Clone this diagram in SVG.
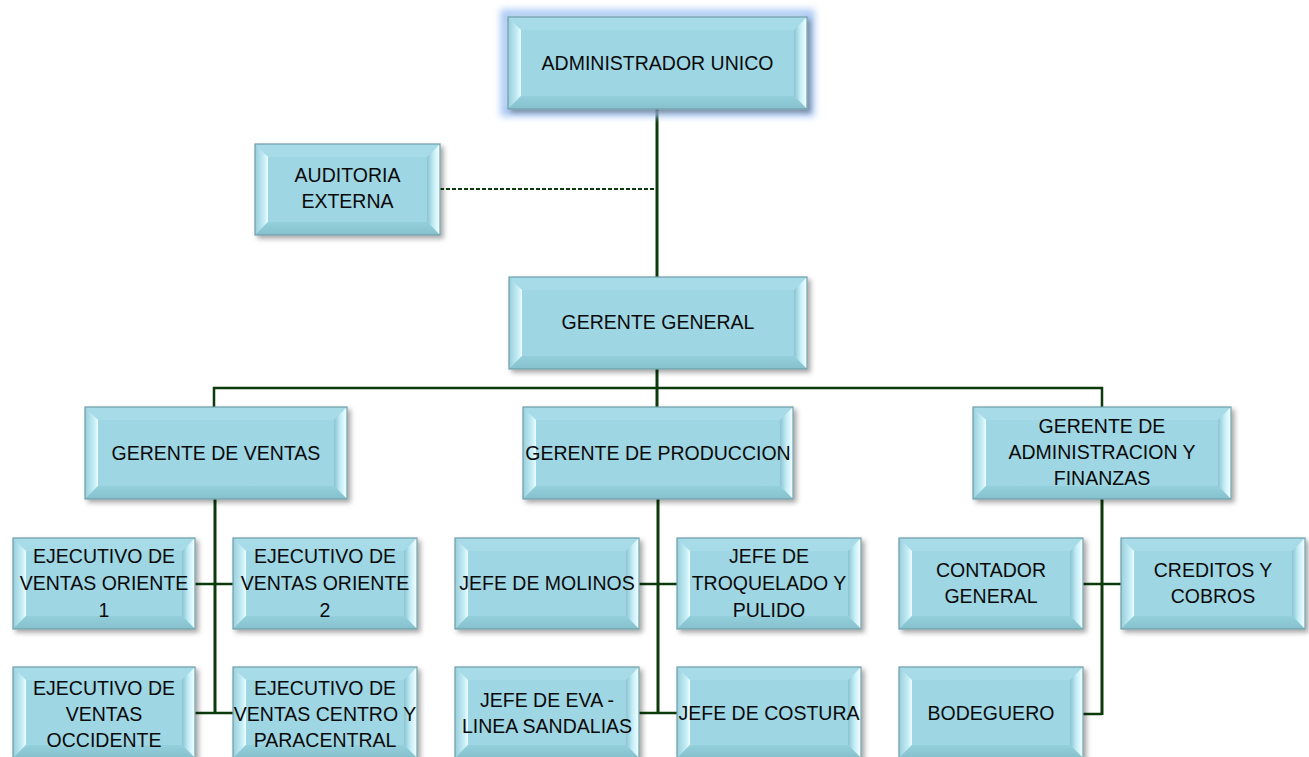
<svg xmlns="http://www.w3.org/2000/svg" width="1309" height="757" viewBox="0 0 1309 757">
<defs>
<linearGradient id="gl" x1="0" y1="0" x2="1" y2="0"><stop offset="0" stop-color="#98cedb"/><stop offset="0.75" stop-color="#c9f0f8"/><stop offset="1" stop-color="#f2feff"/></linearGradient>
<linearGradient id="gr" x1="0" y1="0" x2="1" y2="0"><stop offset="0" stop-color="#8ac3d1"/><stop offset="0.5" stop-color="#c4eef7"/><stop offset="1" stop-color="#f7ffff"/></linearGradient>
<linearGradient id="gb" x1="0" y1="0" x2="0" y2="1"><stop offset="0" stop-color="#94cfdc"/><stop offset="1" stop-color="#86c0cd"/></linearGradient>
<filter id="sh" x="-10%" y="-10%" width="125%" height="130%"><feDropShadow dx="3" dy="3" stdDeviation="2.5" flood-color="#000" flood-opacity="0.35"/></filter>
<filter id="glow" x="-20%" y="-30%" width="140%" height="160%"><feGaussianBlur stdDeviation="3.5"/></filter>
</defs>
<style>
.face{fill:#9ed6e4}
.bt{fill:#a6dbe7}
.bl{fill:url(#gl)}
.br{fill:url(#gr)}
.bb{fill:url(#gb)}
.edge{fill:none;stroke:#6f9ea9;stroke-width:1.2}
.node{filter:url(#sh)}
.t{font-family:"Liberation Sans",Arial,sans-serif;font-size:19.5px;fill:#0a0a0a;text-anchor:middle}
.ln{stroke:#0b3a0b;fill:none}
.v{stroke-width:3}
.h{stroke-width:2.5}
.d{stroke-width:2;stroke-dasharray:4 2}
</style>

<g id="connectors">
<line class="ln v" x1="657" y1="109" x2="657" y2="277"/>
<line class="ln d" x1="440" y1="189" x2="656" y2="189"/>
<line class="ln v" x1="657" y1="369" x2="657" y2="407"/>
<polyline class="ln h" points="214,407 214,388 1102,388 1102,407"/>
<line class="ln v" x1="215" y1="499" x2="215" y2="714"/>
<line class="ln h" x1="195" y1="584" x2="233" y2="584"/>
<line class="ln h" x1="195" y1="713" x2="233" y2="713"/>
<line class="ln v" x1="658" y1="499" x2="658" y2="714"/>
<line class="ln h" x1="639" y1="584" x2="677" y2="584"/>
<line class="ln h" x1="639" y1="713" x2="677" y2="713"/>
<line class="ln v" x1="1102" y1="499" x2="1102" y2="715"/>
<line class="ln h" x1="1083" y1="584" x2="1121" y2="584"/>
<polyline class="ln h" points="1083,714 1102,714"/>
</g>

<g id="admin-unico">
<rect x="505" y="14" width="305" height="98" fill="none" stroke="#a9c9f4" stroke-width="9" filter="url(#glow)"/>
<g class="node">
<rect class="face" x="508" y="17" width="299" height="92"/>
<polygon class="bt" points="508,17 807,17 794,30 521,30"/>
<polygon class="bl" points="508,17 521,30 521,96 508,109"/>
<polygon class="br" points="794,30 807,17 807,109 794,96"/>
<polygon class="bb" points="508,109 807,109 794,96 521,96"/>
<rect class="edge" x="508" y="17" width="299" height="92"/>
</g>
<text class="t" x="657.5" y="70">ADMINISTRADOR UNICO</text>
</g>

<g id="auditoria">
<g class="node">
<rect class="face" x="255" y="144" width="185" height="91"/>
<polygon class="bt" points="255,144 440,144 427,157 268,157"/>
<polygon class="bl" points="255,144 268,157 268,222 255,235"/>
<polygon class="br" points="427,157 440,144 440,235 427,222"/>
<polygon class="bb" points="255,235 440,235 427,222 268,222"/>
<rect class="edge" x="255" y="144" width="185" height="91"/>
</g>
<text class="t" x="347.5" y="182">AUDITORIA</text>
<text class="t" x="347.5" y="208">EXTERNA</text>
</g>

<g id="gerente-general">
<g class="node">
<rect class="face" x="509" y="277" width="298" height="92"/>
<polygon class="bt" points="509,277 807,277 794,290 522,290"/>
<polygon class="bl" points="509,277 522,290 522,356 509,369"/>
<polygon class="br" points="794,290 807,277 807,369 794,356"/>
<polygon class="bb" points="509,369 807,369 794,356 522,356"/>
<rect class="edge" x="509" y="277" width="298" height="92"/>
</g>
<text class="t" x="658" y="329">GERENTE GENERAL</text>
</g>

<g id="gerente-ventas">
<g class="node">
<rect class="face" x="85" y="407" width="262" height="92"/>
<polygon class="bt" points="85,407 347,407 334,420 98,420"/>
<polygon class="bl" points="85,407 98,420 98,486 85,499"/>
<polygon class="br" points="334,420 347,407 347,499 334,486"/>
<polygon class="bb" points="85,499 347,499 334,486 98,486"/>
<rect class="edge" x="85" y="407" width="262" height="92"/>
</g>
<text class="t" x="216" y="460">GERENTE DE VENTAS</text>
</g>

<g id="gerente-produccion">
<g class="node">
<rect class="face" x="523" y="407" width="270" height="92"/>
<polygon class="bt" points="523,407 793,407 780,420 536,420"/>
<polygon class="bl" points="523,407 536,420 536,486 523,499"/>
<polygon class="br" points="780,420 793,407 793,499 780,486"/>
<polygon class="bb" points="523,499 793,499 780,486 536,486"/>
<rect class="edge" x="523" y="407" width="270" height="92"/>
</g>
<text class="t" x="658" y="460">GERENTE DE PRODUCCION</text>
</g>

<g id="gerente-admin">
<g class="node">
<rect class="face" x="973" y="407" width="258" height="92"/>
<polygon class="bt" points="973,407 1231,407 1218,420 986,420"/>
<polygon class="bl" points="973,407 986,420 986,486 973,499"/>
<polygon class="br" points="1218,420 1231,407 1231,499 1218,486"/>
<polygon class="bb" points="973,499 1231,499 1218,486 986,486"/>
<rect class="edge" x="973" y="407" width="258" height="92"/>
</g>
<text class="t" x="1102" y="433">GERENTE DE</text>
<text class="t" x="1102" y="459">ADMINISTRACION Y</text>
<text class="t" x="1102" y="485">FINANZAS</text>
</g>

<g id="ejecutivo-oriente-1">
<g class="node">
<rect class="face" x="13" y="538" width="182" height="91"/>
<polygon class="bt" points="13,538 195,538 182,551 26,551"/>
<polygon class="bl" points="13,538 26,551 26,616 13,629"/>
<polygon class="br" points="182,551 195,538 195,629 182,616"/>
<polygon class="bb" points="13,629 195,629 182,616 26,616"/>
<rect class="edge" x="13" y="538" width="182" height="91"/>
</g>
<text class="t" x="104" y="563">EJECUTIVO DE</text>
<text class="t" x="104" y="590">VENTAS ORIENTE</text>
<text class="t" x="104" y="617">1</text>
</g>

<g id="ejecutivo-oriente-2">
<g class="node">
<rect class="face" x="233" y="538" width="184" height="91"/>
<polygon class="bt" points="233,538 417,538 404,551 246,551"/>
<polygon class="bl" points="233,538 246,551 246,616 233,629"/>
<polygon class="br" points="404,551 417,538 417,629 404,616"/>
<polygon class="bb" points="233,629 417,629 404,616 246,616"/>
<rect class="edge" x="233" y="538" width="184" height="91"/>
</g>
<text class="t" x="325" y="563">EJECUTIVO DE</text>
<text class="t" x="325" y="590">VENTAS ORIENTE</text>
<text class="t" x="325" y="617">2</text>
</g>

<g id="ejecutivo-occidente">
<g class="node">
<rect class="face" x="13" y="667" width="182" height="91"/>
<polygon class="bt" points="13,667 195,667 182,680 26,680"/>
<polygon class="bl" points="13,667 26,680 26,745 13,758"/>
<polygon class="br" points="182,680 195,667 195,758 182,745"/>
<polygon class="bb" points="13,758 195,758 182,745 26,745"/>
<rect class="edge" x="13" y="667" width="182" height="91"/>
</g>
<text class="t" x="104" y="695">EJECUTIVO DE</text>
<text class="t" x="104" y="721">VENTAS</text>
<text class="t" x="104" y="747">OCCIDENTE</text>
</g>

<g id="ejecutivo-centro">
<g class="node">
<rect class="face" x="233" y="667" width="184" height="91"/>
<polygon class="bt" points="233,667 417,667 404,680 246,680"/>
<polygon class="bl" points="233,667 246,680 246,745 233,758"/>
<polygon class="br" points="404,680 417,667 417,758 404,745"/>
<polygon class="bb" points="233,758 417,758 404,745 246,745"/>
<rect class="edge" x="233" y="667" width="184" height="91"/>
</g>
<text class="t" x="325" y="695">EJECUTIVO DE</text>
<text class="t" x="325" y="721">VENTAS CENTRO Y</text>
<text class="t" x="325" y="747">PARACENTRAL</text>
</g>

<g id="jefe-molinos">
<g class="node">
<rect class="face" x="455" y="538" width="184" height="91"/>
<polygon class="bt" points="455,538 639,538 626,551 468,551"/>
<polygon class="bl" points="455,538 468,551 468,616 455,629"/>
<polygon class="br" points="626,551 639,538 639,629 626,616"/>
<polygon class="bb" points="455,629 639,629 626,616 468,616"/>
<rect class="edge" x="455" y="538" width="184" height="91"/>
</g>
<text class="t" x="547" y="590">JEFE DE MOLINOS</text>
</g>

<g id="jefe-troquelado">
<g class="node">
<rect class="face" x="677" y="538" width="184" height="91"/>
<polygon class="bt" points="677,538 861,538 848,551 690,551"/>
<polygon class="bl" points="677,538 690,551 690,616 677,629"/>
<polygon class="br" points="848,551 861,538 861,629 848,616"/>
<polygon class="bb" points="677,629 861,629 848,616 690,616"/>
<rect class="edge" x="677" y="538" width="184" height="91"/>
</g>
<text class="t" x="769" y="563">JEFE DE</text>
<text class="t" x="769" y="590">TROQUELADO Y</text>
<text class="t" x="769" y="617">PULIDO</text>
</g>

<g id="jefe-eva">
<g class="node">
<rect class="face" x="455" y="667" width="184" height="91"/>
<polygon class="bt" points="455,667 639,667 626,680 468,680"/>
<polygon class="bl" points="455,667 468,680 468,745 455,758"/>
<polygon class="br" points="626,680 639,667 639,758 626,745"/>
<polygon class="bb" points="455,758 639,758 626,745 468,745"/>
<rect class="edge" x="455" y="667" width="184" height="91"/>
</g>
<text class="t" x="547" y="707">JEFE DE EVA -</text>
<text class="t" x="547" y="733">LINEA SANDALIAS</text>
</g>

<g id="jefe-costura">
<g class="node">
<rect class="face" x="677" y="667" width="184" height="91"/>
<polygon class="bt" points="677,667 861,667 848,680 690,680"/>
<polygon class="bl" points="677,667 690,680 690,745 677,758"/>
<polygon class="br" points="848,680 861,667 861,758 848,745"/>
<polygon class="bb" points="677,758 861,758 848,745 690,745"/>
<rect class="edge" x="677" y="667" width="184" height="91"/>
</g>
<text class="t" x="769" y="720">JEFE DE COSTURA</text>
</g>

<g id="contador-general">
<g class="node">
<rect class="face" x="899" y="538" width="184" height="91"/>
<polygon class="bt" points="899,538 1083,538 1070,551 912,551"/>
<polygon class="bl" points="899,538 912,551 912,616 899,629"/>
<polygon class="br" points="1070,551 1083,538 1083,629 1070,616"/>
<polygon class="bb" points="899,629 1083,629 1070,616 912,616"/>
<rect class="edge" x="899" y="538" width="184" height="91"/>
</g>
<text class="t" x="991" y="577">CONTADOR</text>
<text class="t" x="991" y="603">GENERAL</text>
</g>

<g id="creditos-cobros">
<g class="node">
<rect class="face" x="1121" y="538" width="184" height="91"/>
<polygon class="bt" points="1121,538 1305,538 1292,551 1134,551"/>
<polygon class="bl" points="1121,538 1134,551 1134,616 1121,629"/>
<polygon class="br" points="1292,551 1305,538 1305,629 1292,616"/>
<polygon class="bb" points="1121,629 1305,629 1292,616 1134,616"/>
<rect class="edge" x="1121" y="538" width="184" height="91"/>
</g>
<text class="t" x="1213" y="577">CREDITOS Y</text>
<text class="t" x="1213" y="603">COBROS</text>
</g>

<g id="bodeguero">
<g class="node">
<rect class="face" x="899" y="667" width="184" height="91"/>
<polygon class="bt" points="899,667 1083,667 1070,680 912,680"/>
<polygon class="bl" points="899,667 912,680 912,745 899,758"/>
<polygon class="br" points="1070,680 1083,667 1083,758 1070,745"/>
<polygon class="bb" points="899,758 1083,758 1070,745 912,745"/>
<rect class="edge" x="899" y="667" width="184" height="91"/>
</g>
<text class="t" x="991" y="720">BODEGUERO</text>
</g>
</svg>
